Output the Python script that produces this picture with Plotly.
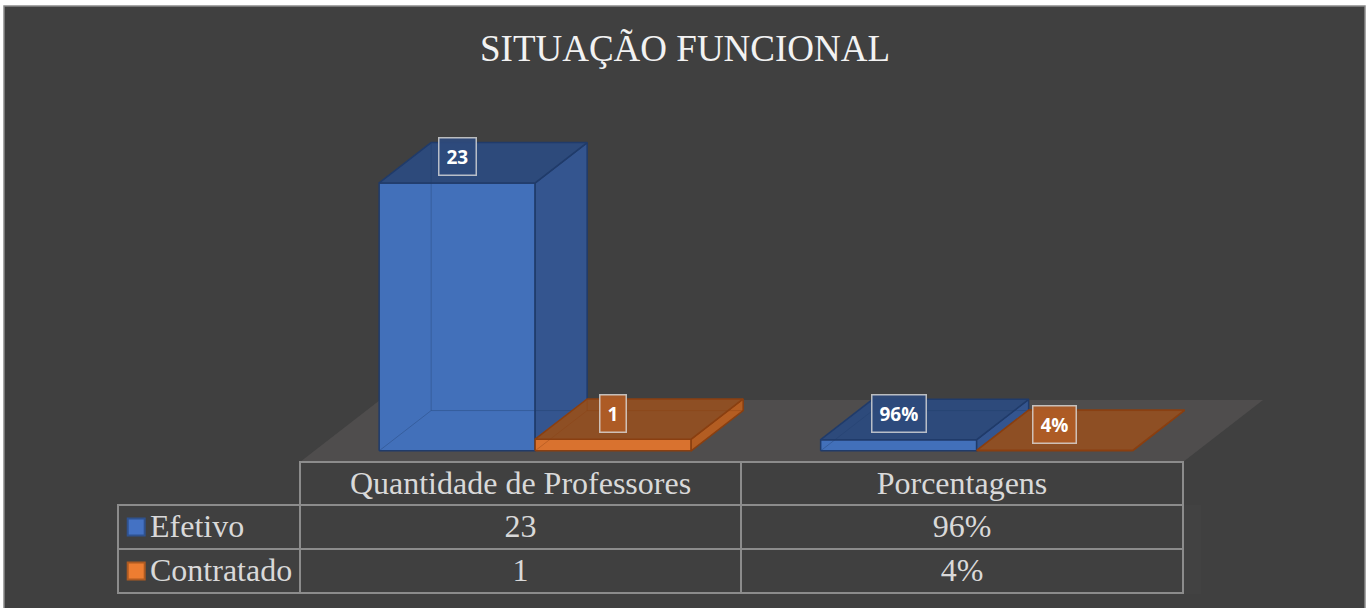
import plotly.graph_objects as go

# ---------------- data ----------------
categories = ["Quantidade de Professores", "Porcentagens"]
series_names = ["Efetivo", "Contratado"]
efetivo_values = [23, 0.96]
contratado_values = [1, 0.04]
efetivo_labels = ["23", "96%"]
contratado_labels = ["1", "4%"]
title_text = "SITUAÇÃO FUNCIONAL"

# ---------------- styling / geometry ----------------
FIG_W, FIG_H = 1370, 608
BG = "#404040"
PLOT_L, PLOT_R, PLOT_T, PLOT_B = 300, 1280, 90, 462   # plot area in px
CAT_PX = 441.5        # px per category unit
VAL_PX = 11.65        # px per value unit
DEPTH_DX_PX, DEPTH_DY_PX = 80, 62
DXu = DEPTH_DX_PX / CAT_PX
DYu = DEPTH_DY_PX / VAL_PX
BAR_W = 156 / CAT_PX
D0, D1 = 0.18, 0.83
X_RANGE = [0, (PLOT_R - PLOT_L) / CAT_PX]
Y_RANGE = [0, (PLOT_B - PLOT_T) / VAL_PX]

styles = [
    dict(front="#4270BA", side="#34558F", top="#2D4A7B", edge="#203B6A",
         hidden="rgba(32,59,106,0.35)", label_bg="rgba(46,74,124,0.92)",
         legend="#4472C4", legend_edge="#2F528F"),
    dict(front="#D9722F", side="#B35D22", top="#8E4F24", edge="#8A3F10",
         hidden="rgba(138,63,16,0.35)", label_bg="rgba(176,92,38,0.92)",
         legend="#ED7D31", legend_edge="#AE5A21"),
]
series_values = [efetivo_values, contratado_values]
series_labels = [efetivo_labels, contratado_labels]


def proj(x, z, d):
    return x + d * DXu, z + d * DYu


def poly(points):
    xs, ys = [], []
    for (x, z, d) in points + [points[0]]:
        px, py = proj(x, z, d)
        xs.append(px)
        ys.append(py)
    return xs, ys


fig = go.Figure()

# floor
n_cat = len(categories)
fx, fy = poly([(0, 0, 0), (n_cat, 0, 0), (n_cat, 0, 1), (0, 0, 1)])
fig.add_trace(go.Scatter(x=fx, y=fy, mode="lines", fill="toself", fillcolor="#4F4D4D",
                         line=dict(width=0), hoverinfo="skip", showlegend=False))

annotations = []
for c in range(n_cat):
    for s in range(len(series_names)):
        v = series_values[s][c]
        st = styles[s]
        x0 = c + 0.5 - BAR_W + s * BAR_W
        x1 = x0 + BAR_W
        faces = [
            ("front", [(x0, 0, D0), (x1, 0, D0), (x1, v, D0), (x0, v, D0)]),
            ("side", [(x1, 0, D0), (x1, 0, D1), (x1, v, D1), (x1, v, D0)]),
            ("top", [(x0, v, D0), (x1, v, D0), (x1, v, D1), (x0, v, D1)]),
        ]
        for name, pts in faces:
            xs, ys = poly(pts)
            fig.add_trace(go.Scatter(x=xs, y=ys, mode="lines", fill="toself",
                                     fillcolor=st[name], line=dict(color=st["edge"], width=1.5),
                                     hoverinfo="skip", showlegend=False))
        # faint hidden back edges (semi-transparent look)
        hx, hy = [], []
        for seg in [[(x0, 0, D0), (x0, 0, D1), (x1, 0, D1)], [(x0, 0, D1), (x0, v, D1)]]:
            for (x, z, d) in seg:
                px, py = proj(x, z, d)
                hx.append(px)
                hy.append(py)
            hx.append(None)
            hy.append(None)
        fig.add_trace(go.Scatter(x=hx, y=hy, mode="lines", line=dict(color=st["hidden"], width=1),
                                 hoverinfo="skip", showlegend=False))
        ax, ay = proj((x0 + x1) / 2, v, D0)
        annotations.append(dict(
            x=ax, y=ay, xref="x", yref="y", text="<b>%s</b>" % series_labels[s][c],
            showarrow=False, yshift=26, yanchor="middle", xanchor="center",
            font=dict(family="Open Sans", size=19, color="#FFFFFF"),
            bgcolor=st["label_bg"], bordercolor="rgba(220,220,220,0.8)", borderwidth=1.5,
            borderpad=7, height=22,
        ))

# title
annotations.append(dict(
    x=0.5, y=(FIG_H - 49) / FIG_H, xref="paper", yref="paper", text=title_text,
    showarrow=False, xanchor="center", yanchor="middle",
    font=dict(family="Liberation Serif", size=37, color="#F2F2F2"),
))

# data table
NB = "\u00a0"
row_labels = [NB * 3 + name for name in series_names]
col_values = [row_labels]
for c in range(n_cat):
    col_values.append([series_labels[s][c] for s in range(len(series_names))])

TAB_L, TAB_R, TAB_T, TAB_B = 118, 1183, 462, 594
HEAD_H, ROW_H = 43, 44
line_col = "#8C8C8C"
CLEAR = "rgba(0,0,0,0)"
fig.add_trace(go.Table(
    domain=dict(x=[TAB_L / FIG_W, TAB_R / FIG_W], y=[(FIG_H - TAB_B) / FIG_H, (FIG_H - TAB_T) / FIG_H]),
    columnwidth=[182, 441, 442],
    header=dict(values=[""] + categories, height=HEAD_H,
                align=["left", "center", "center"],
                fill=dict(color=[CLEAR, BG, BG]),
                line=dict(color=[CLEAR, line_col, line_col], width=2),
                font=dict(family="Liberation Serif", size=32, color="#D9D9D9")),
    cells=dict(values=col_values, height=ROW_H,
               align=["left", "center", "center"],
               fill=dict(color=[CLEAR, BG, BG]),
               line=dict(color=line_col, width=2),
               font=dict(family="Liberation Serif", size=32, color="#D9D9D9")),
))

# legend keys inside the table's first column (overlay axis over the table rows)
rows_top = TAB_T + HEAD_H
rows_bot = rows_top + ROW_H * len(series_names)
for i, name in enumerate(series_names):
    fig.add_trace(go.Scatter(
        x=[0.1], y=[i], xaxis="x2", yaxis="y2", mode="markers",
        marker=dict(symbol="square", size=17, color=styles[i]["legend"],
                    line=dict(color=styles[i]["legend_edge"], width=2)),
        name=name, hoverinfo="skip", showlegend=False, cliponaxis=False))

fig.update_layout(
    width=FIG_W, height=FIG_H,
    margin=dict(l=0, r=0, t=0, b=0),
    paper_bgcolor="#FFFFFF", plot_bgcolor="rgba(0,0,0,0)",
    showlegend=False,
    xaxis=dict(domain=[PLOT_L / FIG_W, PLOT_R / FIG_W], range=X_RANGE, visible=False, fixedrange=True),
    yaxis=dict(domain=[(FIG_H - PLOT_B) / FIG_H, (FIG_H - PLOT_T) / FIG_H], range=Y_RANGE,
               visible=False, fixedrange=True),
    xaxis2=dict(domain=[TAB_L / FIG_W, (TAB_L + 182) / FIG_W], range=[0, 1], visible=False,
                fixedrange=True, anchor="y2"),
    yaxis2=dict(domain=[(FIG_H - rows_bot) / FIG_H, (FIG_H - rows_top) / FIG_H],
                range=[len(series_names) - 0.5, -0.5], visible=False, fixedrange=True, anchor="x2"),
    annotations=annotations,
    shapes=[dict(type="rect", xref="paper", yref="paper", x0=4 / FIG_W, x1=1365 / FIG_W,
                 y0=-0.02, y1=(FIG_H - 6) / FIG_H, fillcolor=BG,
                 line=dict(color="#8A8A8A", width=1.5), layer="below")],
)

fig.write_html(
    "out.html",
    config={"displayModeBar": False},
    post_script="document.body.style.margin='0';document.body.style.overflow='hidden';",
)
